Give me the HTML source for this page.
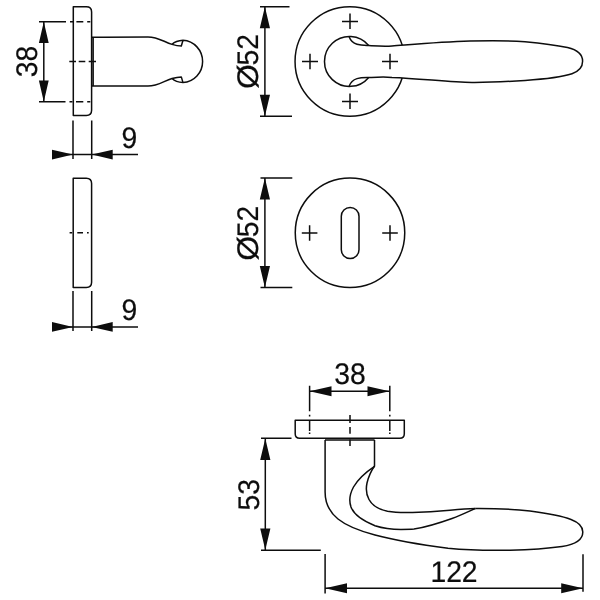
<!DOCTYPE html>
<html>
<head>
<meta charset="utf-8">
<title>Door handle technical drawing</title>
<style>
html,body{margin:0;padding:0;background:#fff;}
body{width:600px;height:600px;overflow:hidden;}
svg{display:block;will-change:transform;}
.l{fill:none;stroke:#0d0d0d;stroke-width:1.5;stroke-linecap:butt;stroke-linejoin:round;}
.t{fill:none;stroke:#0d0d0d;stroke-width:1.6;}
.a{fill:#0d0d0d;stroke:none;}
text{font-family:"Liberation Sans",sans-serif;font-size:29.8px;text-rendering:geometricPrecision;fill:#0d0d0d;stroke:#0d0d0d;stroke-width:0.2;}
</style>
</head>
<body>
<svg width="600" height="600" viewBox="0 0 600 600">
<rect width="600" height="600" fill="#ffffff"/>

<!-- ============ side view 1 (rose + handle end) ============ -->
<g id="side1">
  <path class="l" d="M73.3 6.8 H86.3 Q91.6 6.8 91.6 12 V110.2 Q91.6 115.4 86.3 115.4 H73.3 Z"/>
  <!-- handle end-on -->
  <path class="l" d="M92 37.3 C100 36.9 110 36.9 148 36.9 C158 36.9 164 42 172 44.4 C176 45.6 179 46 181.3 46 L183 40.3"/>
  <path class="l" d="M172 44.4 C174.5 42 178 40.6 183 40.3 A20.7 21.18 0 0 1 183 82.6 C178 82.3 174.5 80.9 172 78.5"/>
  <path class="l" d="M92 85.9 C100 86.1 110 86.1 148 86.1 C158 86.1 164 80.9 172 78.5 C176 77.3 179 76.9 181.3 76.9 L183 82.6"/>
  <path class="t" d="M93.1 37.2 V86"/>
  <!-- dim 38 -->
  <path class="l" d="M39 21.8 H66 M39 101.8 H65.5"/>
  <path class="l" d="M70 21.8 H74 M76.4 21.8 H83.3 M87.2 21.8 H90.3 M69.5 101.8 H72.5 M76 101.8 H83.3 M87.2 101.8 H90.3"/>
  <path class="l" d="M69.3 61.5 H76 M78.7 61.5 H85.3 M88.7 61.5 H96"/>
  <path class="l" d="M43.8 21.8 V101.8"/>
  <path class="a" d="M43.8 21.8 L38.9 43 H48.7 Z M43.8 101.8 L38.9 80.6 H48.7 Z"/>
  <text transform="translate(36.7 61.6) rotate(-90) scale(0.95 1)" text-anchor="middle">38</text>
  <!-- dim 9 -->
  <path class="l" d="M73 120.5 V159 M91.7 120.5 V159"/>
  <path class="l" d="M52 154.6 H138"/>
  <path class="a" d="M73 154.6 L52 149.8 V159.4 Z M91.7 154.6 L112.7 149.8 V159.4 Z"/>
  <text transform="translate(121.6 148.1) scale(0.95 1)">9</text>
</g>

<!-- ============ side view 2 (plain rose) ============ -->
<g id="side2">
  <path class="l" d="M73.2 178.3 H86.3 Q91.6 178.3 91.6 183.6 V282.3 Q91.6 287.5 86.3 287.5 H73.2 Z"/>
  <path class="l" d="M69.6 232.8 H72.2 M77.3 232.8 H83 M87 232.8 H88.7"/>
  <path class="l" d="M73 291 V331 M91.7 291 V331"/>
  <path class="l" d="M52 326.9 H138"/>
  <path class="a" d="M73 326.9 L52 322.1 V331.7 Z M91.7 326.9 L112.7 322.1 V331.7 Z"/>
  <text transform="translate(121.6 320.3) scale(0.95 1)">9</text>
</g>

<!-- ============ front view 1 (rose + lever) ============ -->
<g id="front1">
  <path class="l" d="M260 6.8 H289.5 M260 116.3 H292"/>
  <path class="l" d="M264.9 6.8 V116.3"/>
  <path class="a" d="M264.9 6.8 L259.8 28.3 H270 Z M264.9 116.3 L259.8 94.8 H270 Z"/>
  <text transform="translate(257.8 76.7) rotate(-90) scale(1.07 1)" text-anchor="middle">Ø</text><text transform="translate(257.8 49.7) rotate(-90) scale(0.95 1)" text-anchor="middle">52</text>
  <!-- outer circle (part hidden behind lever is masked by white fill) -->
  <circle class="l" cx="349.8" cy="61.55" r="54.75"/>
  <!-- lever outline -->
  <path fill="#fff" stroke="none" d="M349 36.4 C350.5 40.5 353 43 357 44.2 C361 45.4 365 45.4 368.7 45.6 C376 46 384 46.6 392 46 C410 44.7 440 42 470 41.1 C490 40.5 508 40.5 525 41.8 C545 43.6 560 46 567.5 47.6 C577 49.8 582.6 54.5 582.6 61.3 C582.6 67.5 578.5 71.5 572 73.7 C563 76.6 545 79 525 80.4 C508 81.6 490 82.5 472 82.4 C450 82.2 420 78.4 392 77.4 C384 76.7 376 77.2 368.7 77.5 C365 77.6 361 77.5 357 78.6 C353 79.8 350.5 82.3 349 86.4 Z"/>
  <path class="l" d="M349 36.4 C350.5 40.5 353 43 357 44.2 C361 45.4 365 45.4 368.7 45.6 C376 46 384 46.6 392 46 C410 44.7 440 42 470 41.1 C490 40.5 508 40.5 525 41.8 C545 43.6 560 46 567.5 47.6 C577 49.8 582.6 54.5 582.6 61.3 C582.6 67.5 578.5 71.5 572 73.7 C563 76.6 545 79 525 80.4 C508 81.6 490 82.5 472 82.4 C450 82.2 420 78.4 392 77.4 C384 76.7 376 77.2 368.7 77.5 C365 77.6 361 77.5 357 78.6 C353 79.8 350.5 82.3 349 86.4"/>
  <!-- neck circle -->
  <path class="l" d="M368.7 45.4 A25 25 0 1 0 368.7 77.4"/>
  <!-- crosses -->
  <path class="l" d="M342 21.4 H358 M350 13.6 V29.1 M302 61.5 H318 M310 53.7 V69.2 M342 101.4 H358 M350 93.6 V109.1 M382 61.5 H398 M390 53.7 V69.2"/>
</g>

<!-- ============ front view 2 (keyhole rose) ============ -->
<g id="front2">
  <path class="l" d="M260.5 178.1 H292.3 M260.5 287.6 H292.3"/>
  <path class="l" d="M264.9 178.1 V287.6"/>
  <path class="a" d="M264.9 178.1 L259.8 199.6 H270 Z M264.9 287.6 L259.8 266.1 H270 Z"/>
  <text transform="translate(258.1 248.4) rotate(-90) scale(1.07 1)" text-anchor="middle">Ø</text><text transform="translate(258.1 221.4) rotate(-90) scale(0.95 1)" text-anchor="middle">52</text>
  <circle class="l" cx="350" cy="232.85" r="54.75"/>
  <rect class="l" x="341.3" y="207.5" width="17.7" height="51" rx="8.85" ry="8.85"/>
  <path class="l" d="M301.8 233 H317.4 M309.6 225.2 V240.8 M382.2 233 H397.8 M390 225.2 V240.8"/>
</g>

<!-- ============ top view (rose + lever from above) ============ -->
<g id="top">
  <!-- dim 38 -->
  <text transform="translate(350 384.2) scale(0.95 1)" text-anchor="middle">38</text>
  <path class="l" d="M309.5 391.3 H389.5"/>
  <path class="a" d="M309.5 391.3 L331.5 386.3 V396.3 Z M389.5 391.3 L367.5 386.3 V396.3 Z"/>
  <path class="l" d="M309.6 385.8 V411.2 M389.8 385.8 V411.2"/>
  <path class="l" d="M309.6 414.8 V416.4 M309.6 421 V431 M309.6 432.4 V434 M389.8 414.8 V416.4 M389.8 421 V431 M389.8 432.4 V434"/>
  <path class="l" d="M350 415 V423 M350 427 V433.7 M350 439.4 V446"/>
  <!-- rose -->
  <path class="l" d="M295.2 420.3 H404.3 V433.8 Q404.3 438.3 399.8 438.3 H299.7 Q295.2 438.3 295.2 433.8 Z"/>
  <path class="l" d="M325 440 H374.6"/>
  <!-- neck + lever -->
  <path class="l" d="M325.1 440 V492 C325.1 503 330 512.5 338 519 C346 525.5 358 530.5 375 535 C395 540.3 420 544.6 448 548.3 C466 550 490 550.6 510 550.2 C532 549.7 550 548.2 562 546.5 C574 544.7 582.8 540 582.8 532 C582.8 526.5 579 522.5 571 519.5 C562 516 548 513.3 530 511 C515 509.3 495 508.4 475.3 508.5"/>
  <path class="l" d="M374.5 440 V466.3 C366 472 358 479 353.5 487 C350 493.5 348.5 500 351 507 C353.5 513.5 362 520.5 375 525.7 C385 528.9 393 529.4 401 529.4 C406 529.4 410 529.4 414 529.1 C424 527.5 440 522.8 452 518.5 C461 515.2 469 511.3 475.3 508.5"/>
  <path class="l" d="M374.4 466.3 C371 471 368.5 477 367 483 C365.5 490 366.5 495 369 499.5 C372 505 379 509.5 387.5 511.3 C396 512.8 405 512.7 412.5 512.5 C425 512 440 511 450 510.2 C460 509.3 468 508.7 475.3 508.5"/>
  <!-- dim 53 -->
  <path class="l" d="M261 438.3 H291.5 M261 550.2 H320.8"/>
  <path class="l" d="M265.3 438.5 V550"/>
  <path class="a" d="M265.3 438.5 L260.2 460 H270.4 Z M265.3 550 L260.2 528.5 H270.4 Z"/>
  <text transform="translate(259 494.7) rotate(-90) scale(0.95 1)" text-anchor="middle">53</text>
  <!-- dim 122 -->
  <path class="l" d="M325.1 554 V593.4 M583 554.3 V591.7"/>
  <path class="l" d="M325.1 588.2 H583"/>
  <path class="a" d="M325.1 588.2 L347 583.2 V593.2 Z M583 588.2 L561.2 583.2 V593.2 Z"/>
  <text transform="translate(454 581.8) scale(0.95 1)" text-anchor="middle">122</text>
</g>
</svg>
</body>
</html>
